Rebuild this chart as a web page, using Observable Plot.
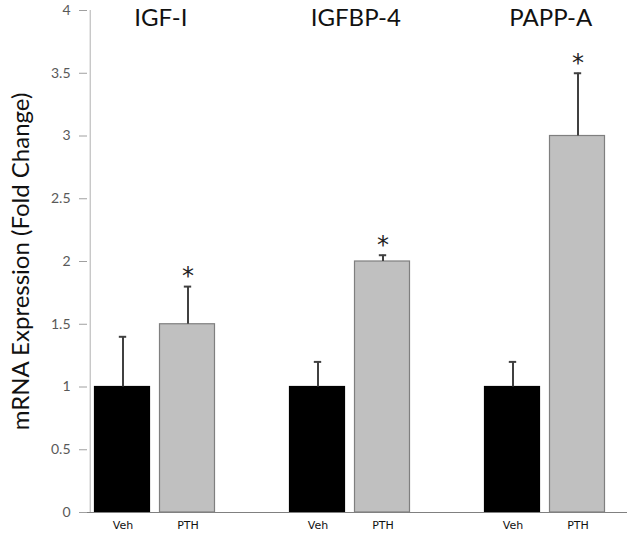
<!DOCTYPE html>
<html>
<head>
<meta charset="utf-8">
<script src="https://cdn.jsdelivr.net/npm/d3@7"></script>
<script src="https://cdn.jsdelivr.net/npm/@observablehq/plot@0.6"></script>
<style>
  html, body { margin: 0; padding: 0; background: #fff; }
</style>
</head>
<body>
<div id="chart"></div>
<script>
const groups = ["IGF-I", "IGFBP-4", "PAPP-A"];
const treatments = ["Veh", "PTH"];
const vehMeans = [1, 1, 1];
const vehErr = [0.4, 0.2, 0.2];
const pthMeans = [1.5, 2.0, 3.0];
const pthErr = [0.3, 0.05, 0.5];
const pthSignificant = [true, true, true];
const yTicks = [0, 0.5, 1, 1.5, 2, 2.5, 3, 3.5, 4];
const yLabel = "mRNA Expression (Fold Change)";

const rows = [];
groups.forEach((g, i) => {
  rows.push({group: g, treatment: "Veh", key: g + "|Veh", mean: vehMeans[i], top: vehMeans[i] + vehErr[i], sig: false});
  rows.push({group: g, treatment: "PTH", key: g + "|PTH", mean: pthMeans[i], top: pthMeans[i] + pthErr[i], sig: pthSignificant[i]});
});
const domain = [];
groups.forEach((g, i) => {
  treatments.forEach(t => domain.push(g + "|" + t));
  if (i < groups.length - 1) domain.push("gap" + i);
});
const band = (612 - 87) / domain.length;

const chart = Plot.plot({
  width: 632,
  height: 536,
  marginLeft: 87,
  marginRight: 5,
  marginTop: 10,
  marginBottom: 24,
  style: {fontFamily: "Lato, 'Open Sans', sans-serif", background: "#fff"},
  x: {type: "band", domain, range: [87, 612], padding: 0, axis: null},
  y: {domain: [0, 4], axis: null},
  marks: [
    Plot.axisY({ticks: yTicks, tickFormat: d => String(d), tickSize: 8, tickPadding: 9, stroke: "#a0a0a0", fill: "#595959", fontSize: 14, label: null}),
    Plot.ruleX([domain[0]], {x: d => d, y1: 0, y2: 4, dx: -band / 2, stroke: "#b0b0b0", strokeWidth: 1}),
    Plot.barY(rows, {
      x: "key", y: "mean",
      fill: d => d.treatment === "Veh" ? "#000000" : "#c0c0c0",
      stroke: d => d.treatment === "Veh" ? "#000000" : "#7f7f7f",
      strokeWidth: 1.2,
      insetLeft: 4.5, insetRight: 5.5
    }),
    Plot.ruleX(rows, {x: "key", y1: "mean", y2: "top", stroke: "#404040", strokeWidth: 2}),
    Plot.tickY(rows, {x: "key", y: "top", stroke: "#404040", strokeWidth: 2, insetLeft: (band - 8) / 2, insetRight: (band - 8) / 2}),
    Plot.text(rows.filter(d => d.sig), {x: "key", y: "top", text: () => "*", dy: -10, fontSize: 24, fontFamily: "'DejaVu Sans', sans-serif", fill: "#222", lineAnchor: "middle"}),
    Plot.ruleY([0], {stroke: "#808080", strokeWidth: 1.2}),
    Plot.text(rows, {x: "key", y: 0, text: "treatment", dy: 13, fontSize: 11, fontFamily: "'DejaVu Sans', sans-serif", fill: "#111", lineAnchor: "middle"}),
    Plot.text(groups, {x: d => d + "|Veh", y: 4, text: d => d, dx: band / 2 + 5, dy: 8, fontSize: 24, fill: "#111", lineAnchor: "middle"}),
    Plot.text([yLabel], {text: d => d, frameAnchor: "left", rotate: -90, dx: -66, fontSize: 24, fill: "#111", textAnchor: "middle", lineAnchor: "middle"})
  ]
});
document.getElementById("chart").appendChild(chart);
</script>
</body>
</html>
